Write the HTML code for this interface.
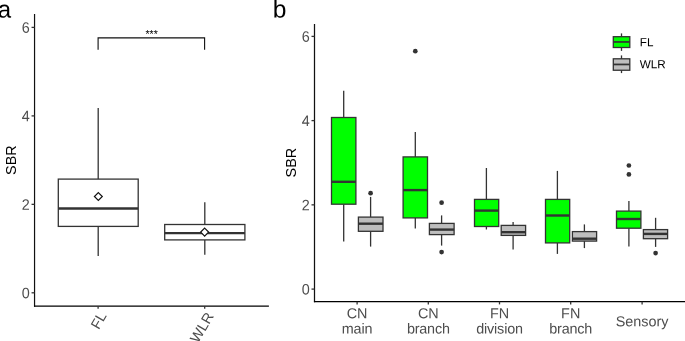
<!DOCTYPE html>
<html><head><meta charset="utf-8"><title>SBR boxplots</title>
<style>
html,body{margin:0;padding:0;background:#ffffff;}
body{width:685px;height:341px;overflow:hidden;}
svg{display:block;will-change:transform;font-family:"Liberation Sans",sans-serif;}
</style></head><body>
<svg width="685" height="341" viewBox="0 0 685 341">
<rect x="0" y="0" width="685" height="341" fill="#ffffff"/>
<text transform="translate(-2.2 17.5) rotate(0.03)" font-size="24" fill="#000">a</text>
<line x1="34.55" y1="14.1" x2="34.55" y2="306.75" stroke="#111" stroke-width="1.2"/>
<line x1="34.05" y1="306.15" x2="268.9" y2="306.15" stroke="#000" stroke-width="1.4"/>
<line x1="31.549999999999997" y1="27.4" x2="34.55" y2="27.4" stroke="#333333" stroke-width="1.3"/>
<text transform="translate(29.8 32.8) rotate(0.03) scale(1 1.05)" font-size="14.4" fill="#4d4d4d" text-anchor="end">6</text>
<line x1="31.549999999999997" y1="115.9" x2="34.55" y2="115.9" stroke="#333333" stroke-width="1.3"/>
<text transform="translate(29.8 121.3) rotate(0.03) scale(1 1.05)" font-size="14.4" fill="#4d4d4d" text-anchor="end">4</text>
<line x1="31.549999999999997" y1="204.35" x2="34.55" y2="204.35" stroke="#333333" stroke-width="1.3"/>
<text transform="translate(29.8 209.75) rotate(0.03) scale(1 1.05)" font-size="14.4" fill="#4d4d4d" text-anchor="end">2</text>
<line x1="31.549999999999997" y1="292.8" x2="34.55" y2="292.8" stroke="#333333" stroke-width="1.3"/>
<text transform="translate(29.8 298.2) rotate(0.03) scale(1 1.05)" font-size="14.4" fill="#4d4d4d" text-anchor="end">0</text>
<line x1="98.1" y1="306.15" x2="98.1" y2="308.84999999999997" stroke="#333333" stroke-width="1.3"/>
<line x1="204.7" y1="306.15" x2="204.7" y2="308.84999999999997" stroke="#333333" stroke-width="1.3"/>
<text transform="translate(16.0 160.15) rotate(-90)" font-size="14.4" fill="#000" text-anchor="middle">SBR</text>
<text transform="translate(107.1 315.6) rotate(-60)" font-size="14.4" fill="#4d4d4d" text-anchor="end">FL</text>
<text transform="translate(214.1 316.1) rotate(-60)" font-size="14.4" fill="#4d4d4d" text-anchor="end">WLR</text>
<line x1="98.2" y1="108.1" x2="98.2" y2="179.1" stroke="#333333" stroke-width="1.3"/>
<line x1="98.2" y1="226.4" x2="98.2" y2="255.9" stroke="#333333" stroke-width="1.3"/>
<rect x="58.3" y="179.1" width="79.9" height="47.3" fill="#ffffff" stroke="#333333" stroke-width="1.3"/>
<line x1="58.3" y1="208.5" x2="138.2" y2="208.5" stroke="#333333" stroke-width="2.4"/>
<line x1="204.8" y1="202.3" x2="204.8" y2="224.5" stroke="#333333" stroke-width="1.3"/>
<line x1="204.8" y1="239.9" x2="204.8" y2="254.7" stroke="#333333" stroke-width="1.3"/>
<rect x="164.7" y="224.5" width="80.2" height="15.4" fill="#ffffff" stroke="#333333" stroke-width="1.3"/>
<line x1="164.7" y1="233.1" x2="244.9" y2="233.1" stroke="#333333" stroke-width="2.4"/>
<path d="M98.35 192.55L102.3 196.5L98.35 200.45L94.39999999999999 196.5Z" fill="#ffffff" stroke="#111111" stroke-width="1.2"/>
<path d="M204.65 228.15L208.6 232.1L204.65 236.04999999999998L200.70000000000002 232.1Z" fill="#ffffff" stroke="#111111" stroke-width="1.2"/>
<path d="M98.1 49.8V37.9H204.6V49.8" fill="none" stroke="#111" stroke-width="1.12"/>
<text x="151.6" y="38.2" font-size="10.5" fill="#000" text-anchor="middle">***</text>
<text transform="translate(272.75 17.5) rotate(0.03)" font-size="24.6" fill="#000">b</text>
<line x1="314.5" y1="24.1" x2="314.5" y2="302.15" stroke="#111" stroke-width="1.25"/>
<line x1="313.95" y1="301.59999999999997" x2="686" y2="301.59999999999997" stroke="#000" stroke-width="1.15"/>
<line x1="311.5" y1="36.4" x2="314.5" y2="36.4" stroke="#333333" stroke-width="1.3"/>
<text transform="translate(309.7 41.8) rotate(0.03) scale(1 1.05)" font-size="14.4" fill="#4d4d4d" text-anchor="end">6</text>
<line x1="311.5" y1="120.6" x2="314.5" y2="120.6" stroke="#333333" stroke-width="1.3"/>
<text transform="translate(309.7 126.0) rotate(0.03) scale(1 1.05)" font-size="14.4" fill="#4d4d4d" text-anchor="end">4</text>
<line x1="311.5" y1="204.85" x2="314.5" y2="204.85" stroke="#333333" stroke-width="1.3"/>
<text transform="translate(309.7 210.25) rotate(0.03) scale(1 1.05)" font-size="14.4" fill="#4d4d4d" text-anchor="end">2</text>
<line x1="311.5" y1="289.1" x2="314.5" y2="289.1" stroke="#333333" stroke-width="1.3"/>
<text transform="translate(309.7 294.5) rotate(0.03) scale(1 1.05)" font-size="14.4" fill="#4d4d4d" text-anchor="end">0</text>
<line x1="357.1" y1="301.7" x2="357.1" y2="304.4" stroke="#333333" stroke-width="1.3"/>
<text transform="translate(357.1 318.3) rotate(0.03)" font-size="14.4" fill="#4d4d4d" text-anchor="middle">CN</text>
<text transform="translate(357.1 333.5) rotate(0.03)" font-size="14.4" fill="#4d4d4d" text-anchor="middle" letter-spacing="-0.1">main</text>
<line x1="428.3" y1="301.7" x2="428.3" y2="304.4" stroke="#333333" stroke-width="1.3"/>
<text transform="translate(428.3 318.3) rotate(0.03)" font-size="14.4" fill="#4d4d4d" text-anchor="middle">CN</text>
<text transform="translate(428.3 333.5) rotate(0.03)" font-size="14.4" fill="#4d4d4d" text-anchor="middle" letter-spacing="-0.2">branch</text>
<line x1="499.5" y1="301.7" x2="499.5" y2="304.4" stroke="#333333" stroke-width="1.3"/>
<text transform="translate(499.5 318.3) rotate(0.03)" font-size="14.4" fill="#4d4d4d" text-anchor="middle">FN</text>
<text transform="translate(499.5 333.5) rotate(0.03)" font-size="14.4" fill="#4d4d4d" text-anchor="middle" letter-spacing="-0.17">division</text>
<line x1="570.7" y1="301.7" x2="570.7" y2="304.4" stroke="#333333" stroke-width="1.3"/>
<text transform="translate(570.7 318.3) rotate(0.03)" font-size="14.4" fill="#4d4d4d" text-anchor="middle">FN</text>
<text transform="translate(570.7 333.5) rotate(0.03)" font-size="14.4" fill="#4d4d4d" text-anchor="middle" letter-spacing="-0.2">branch</text>
<line x1="642.1" y1="301.7" x2="642.1" y2="304.4" stroke="#333333" stroke-width="1.3"/>
<text transform="translate(642.1 326.2) rotate(0.03)" font-size="14.4" fill="#4d4d4d" text-anchor="middle">Sensory</text>
<text transform="translate(296.4 162.6) rotate(-90)" font-size="14.4" fill="#000" text-anchor="middle">SBR</text>
<line x1="343.7" y1="90.7" x2="343.7" y2="117.5" stroke="#333333" stroke-width="1.3"/>
<line x1="343.7" y1="204.2" x2="343.7" y2="241.5" stroke="#333333" stroke-width="1.3"/>
<rect x="331.5" y="117.5" width="24.4" height="86.7" fill="#00ff00" stroke="#333333" stroke-width="1.3"/>
<line x1="331.5" y1="181.8" x2="355.9" y2="181.8" stroke="#333333" stroke-width="2.4"/>
<line x1="370.6" y1="196.9" x2="370.6" y2="217.1" stroke="#333333" stroke-width="1.3"/>
<line x1="370.6" y1="231.3" x2="370.6" y2="246.6" stroke="#333333" stroke-width="1.3"/>
<rect x="358.4" y="217.1" width="24.6" height="14.2" fill="#bebebe" stroke="#333333" stroke-width="1.3"/>
<line x1="358.4" y1="223.7" x2="383.0" y2="223.7" stroke="#333333" stroke-width="2.4"/>
<circle cx="370.6" cy="193.2" r="2.35" fill="#333333"/>
<line x1="415.3" y1="132.1" x2="415.3" y2="156.9" stroke="#333333" stroke-width="1.3"/>
<line x1="415.3" y1="217.9" x2="415.3" y2="228.6" stroke="#333333" stroke-width="1.3"/>
<rect x="403.1" y="156.9" width="24.4" height="61.0" fill="#00ff00" stroke="#333333" stroke-width="1.3"/>
<line x1="403.1" y1="190.1" x2="427.5" y2="190.1" stroke="#333333" stroke-width="2.4"/>
<circle cx="415.3" cy="51.2" r="2.35" fill="#333333"/>
<line x1="441.6" y1="215.4" x2="441.6" y2="223.4" stroke="#333333" stroke-width="1.3"/>
<line x1="441.6" y1="234.6" x2="441.6" y2="245.6" stroke="#333333" stroke-width="1.3"/>
<rect x="429.4" y="223.4" width="24.7" height="11.2" fill="#bebebe" stroke="#333333" stroke-width="1.3"/>
<line x1="429.4" y1="229.6" x2="454.1" y2="229.6" stroke="#333333" stroke-width="2.4"/>
<circle cx="441.6" cy="202.7" r="2.35" fill="#333333"/>
<circle cx="441.6" cy="252.1" r="2.35" fill="#333333"/>
<line x1="486.4" y1="168.0" x2="486.4" y2="199.4" stroke="#333333" stroke-width="1.3"/>
<line x1="486.4" y1="226.5" x2="486.4" y2="229.5" stroke="#333333" stroke-width="1.3"/>
<rect x="474.5" y="199.4" width="24.2" height="27.1" fill="#00ff00" stroke="#333333" stroke-width="1.3"/>
<line x1="474.5" y1="210.6" x2="498.7" y2="210.6" stroke="#333333" stroke-width="2.4"/>
<line x1="513.1" y1="221.9" x2="513.1" y2="225.4" stroke="#333333" stroke-width="1.3"/>
<line x1="513.1" y1="235.4" x2="513.1" y2="249.4" stroke="#333333" stroke-width="1.3"/>
<rect x="501.2" y="225.4" width="24.4" height="10.0" fill="#bebebe" stroke="#333333" stroke-width="1.3"/>
<line x1="501.2" y1="232.2" x2="525.6" y2="232.2" stroke="#333333" stroke-width="2.4"/>
<line x1="557.4" y1="170.9" x2="557.4" y2="199.4" stroke="#333333" stroke-width="1.3"/>
<line x1="557.4" y1="242.9" x2="557.4" y2="253.9" stroke="#333333" stroke-width="1.3"/>
<rect x="545.5" y="199.4" width="24.2" height="43.5" fill="#00ff00" stroke="#333333" stroke-width="1.3"/>
<line x1="545.5" y1="215.5" x2="569.7" y2="215.5" stroke="#333333" stroke-width="2.4"/>
<line x1="584.4" y1="224.4" x2="584.4" y2="231.6" stroke="#333333" stroke-width="1.3"/>
<line x1="584.4" y1="241.1" x2="584.4" y2="248.1" stroke="#333333" stroke-width="1.3"/>
<rect x="572.4" y="231.6" width="24.2" height="9.5" fill="#bebebe" stroke="#333333" stroke-width="1.3"/>
<line x1="572.4" y1="238.7" x2="596.6" y2="238.7" stroke="#333333" stroke-width="2.4"/>
<line x1="628.9" y1="201.1" x2="628.9" y2="211.1" stroke="#333333" stroke-width="1.3"/>
<line x1="628.9" y1="228.2" x2="628.9" y2="246.6" stroke="#333333" stroke-width="1.3"/>
<rect x="616.5" y="211.1" width="24.4" height="17.1" fill="#00ff00" stroke="#333333" stroke-width="1.3"/>
<line x1="616.5" y1="219.0" x2="640.9" y2="219.0" stroke="#333333" stroke-width="2.4"/>
<circle cx="628.9" cy="165.5" r="2.35" fill="#333333"/>
<circle cx="628.9" cy="174.4" r="2.35" fill="#333333"/>
<line x1="655.6" y1="217.8" x2="655.6" y2="229.6" stroke="#333333" stroke-width="1.3"/>
<line x1="655.6" y1="238.7" x2="655.6" y2="246.9" stroke="#333333" stroke-width="1.3"/>
<rect x="643.4" y="229.6" width="24.2" height="9.1" fill="#bebebe" stroke="#333333" stroke-width="1.3"/>
<line x1="643.4" y1="233.9" x2="667.6" y2="233.9" stroke="#333333" stroke-width="2.4"/>
<circle cx="655.6" cy="253.1" r="2.35" fill="#333333"/>
<line x1="621.5" y1="33.4" x2="621.5" y2="50.9" stroke="#333333" stroke-width="1.3"/>
<rect x="613.3" y="36.7" width="16.5" height="10.8" fill="#00ff00" stroke="#333333" stroke-width="1.3"/>
<line x1="613.3" y1="41.95" x2="629.8" y2="41.95" stroke="#333333" stroke-width="1.75"/>
<line x1="621.5" y1="55.4" x2="621.5" y2="73.1" stroke="#333333" stroke-width="1.3"/>
<rect x="613.3" y="58.8" width="16.5" height="11.45" fill="#bebebe" stroke="#333333" stroke-width="1.3"/>
<line x1="613.3" y1="64.45" x2="629.8" y2="64.45" stroke="#333333" stroke-width="1.75"/>
<text transform="translate(639.75 46.3) rotate(0.03)" font-size="11.7" fill="#000">FL</text>
<text transform="translate(639.75 68.3) rotate(0.03)" font-size="11.7" fill="#000">WLR</text>
</svg>
</body></html>
